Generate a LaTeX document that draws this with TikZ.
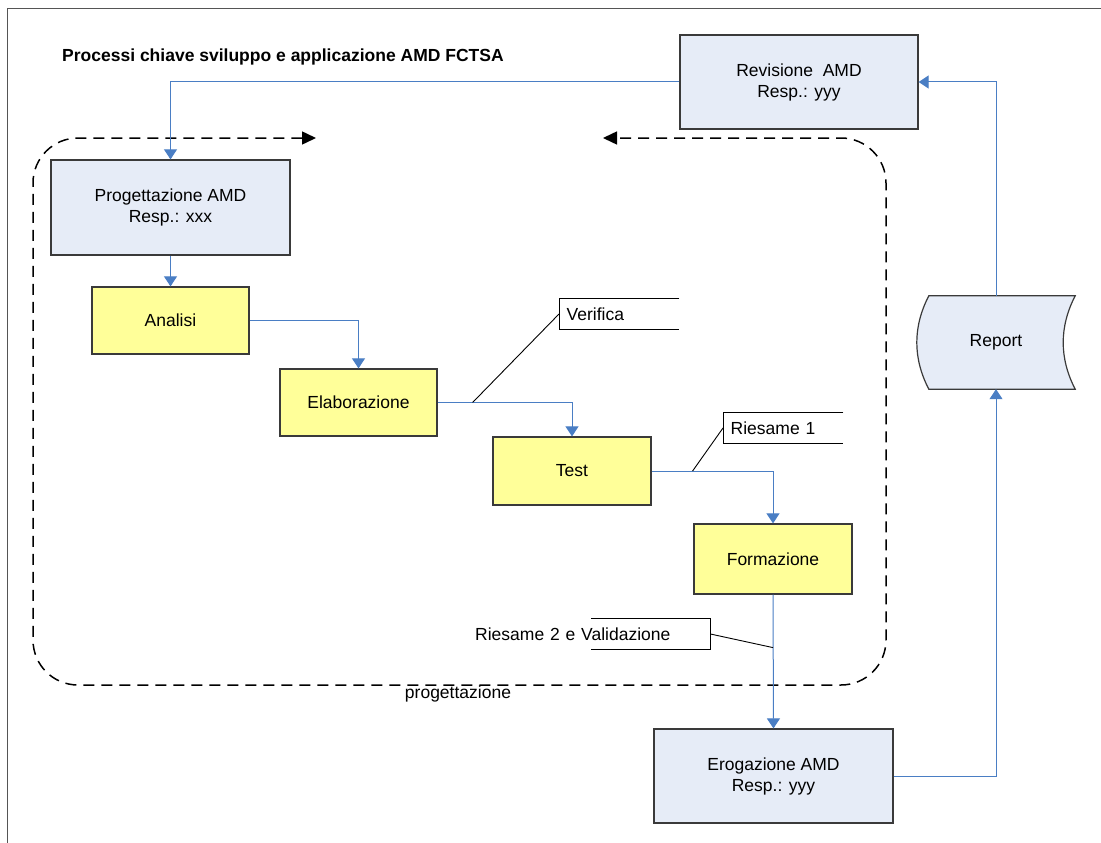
\documentclass[tikz,border=0pt]{standalone}
\usepackage{fontspec}
\setmainfont{Liberation Sans}
\usetikzlibrary{arrows.meta,calc,backgrounds}

\definecolor{boxblue}{HTML}{E6ECF7}
\definecolor{boxyellow}{HTML}{FFFF99}
\definecolor{flowblue}{HTML}{4A7EC4}
\definecolor{edgegray}{HTML}{3A3A3A}
\definecolor{framegray}{HTML}{555555}

\tikzset{
  every node/.style={font=\fontsize{17.5}{21}\selectfont, inner sep=0pt},
  bigbox/.style={draw=edgegray, line width=1.2pt, fill=boxblue,
    minimum width=239pt, minimum height=95pt, align=center},
  stagebox/.style={draw=edgegray, line width=1.2pt, fill=boxyellow,
    minimum width=157pt, minimum height=67pt, align=center},
  flow/.style={draw=flowblue, line width=1pt,
    -{Triangle[width=13pt,length=10pt]}},
  calloutbox/.style={draw=black, line width=1pt},
  leader/.style={draw=black, line width=0.9pt},
  cycleline/.style={draw=black, line width=1.5pt, dash pattern=on 11pt off 7pt,
    {Triangle[width=13pt,length=14pt]}-{Triangle[width=13pt,length=14pt]}},
}

\begin{document}
\begin{tikzpicture}[x=1pt, y=-1pt]
\useasboundingbox (0,0) rectangle (1101,843);

% outer frame (top and left edges)
\draw[framegray, line width=1pt] (1101,9) -- (7,9) -- (7,843);

% title
\node[anchor=base west, font=\fontsize{17.5}{21}\selectfont\bfseries] (title) at (62,62)
  {Processi chiave sviluppo e applicazione AMD FCTSA};

% design cycle boundary
\draw[cycleline, rounded corners=45pt]
  (316,138) -- (33,138) -- (33,685) -- (886,685) -- (886,138) -- (603,138);
\node (cyclelabel) at (458,694) {progettazione};

% main process boxes
\node[bigbox, minimum width=238pt, minimum height=94pt] (rev) at (799,82)
  {Revisione\ \ AMD\\Resp.: yyy};
\node[bigbox] (prog) at (170.5,207.5) {Progettazione AMD\\Resp.: xxx};
\node[stagebox] (analisi) at (170.5,320.5) {Analisi};
\node[stagebox] (elab) at (358.5,402.5) {Elaborazione};
\node[stagebox, minimum width=158pt, minimum height=68pt] (test) at (572,471) {Test};
\node[stagebox, minimum width=158pt, minimum height=70pt] (form) at (773,559) {Formazione};
\node[bigbox, minimum height=94pt] (erog) at (773.5,776) {Erogazione AMD\\Resp.: yyy};

% stored-data shape for the report
\node[minimum width=158pt, minimum height=93pt] (report) at (996,342.5) {Report};
\begin{scope}[on background layer]
\draw[draw=edgegray, line width=1.2pt, fill=boxblue]
  ([xshift=12pt]report.north west) -- (report.north east)
  .. controls ([xshift=-16pt,yshift=-31pt]report.north east)
  and ([xshift=-16pt,yshift=31pt]report.south east) .. (report.south east)
  -- ([xshift=12pt]report.south west)
  .. controls ([xshift=-4pt,yshift=31pt]report.south west)
  and ([xshift=-4pt,yshift=-31pt]report.north west) .. ([xshift=12pt]report.north west)
  -- cycle;
\end{scope}

% flow connectors
\draw[flow] (rev.west) -| (prog.north);
\draw[flow] (prog.south) -- (analisi.north);
\draw[flow] (analisi.east) -| (elab.north);
\draw[flow] (elab.east) -| (test.north);
\draw[flow] (test.east) -| (form.north);
\draw[flow] (form.south) -- (erog.north);
\draw[flow] (erog.east) -| (report.south);
\draw[flow] (report.north) |- (rev.east);

% review callouts
\coordinate (vtip) at ($(elab.east)+(35,0)$);
\coordinate (r1tip) at ($(test.east)+(41,0)$);
\coordinate (r2tip) at ($(form.south)+(0,53)$);

\node[anchor=west, minimum width=120pt, minimum height=30pt, text width=115pt,
  align=left, inner xsep=0pt] (verifica) at (564,314) {Verifica};
\draw[calloutbox] ([xshift=-5pt]verifica.north east) -- ([xshift=-5pt]verifica.north west)
  -- ([xshift=-5pt]verifica.south west) -- ([xshift=-5pt]verifica.south east);
\draw[leader] ([xshift=-5pt]verifica.west) -- (vtip);

\node[anchor=west, minimum width=120pt, minimum height=30pt, text width=115pt,
  align=left] (riesame1) at (728,428) {Riesame 1};
\draw[calloutbox] ([xshift=-5pt]riesame1.north east) -- ([xshift=-5pt]riesame1.north west)
  -- ([xshift=-5pt]riesame1.south west) -- ([xshift=-5pt]riesame1.south east);
\draw[leader] ([xshift=-5pt]riesame1.west) -- (r1tip);

\node[anchor=west, minimum height=30pt, text width=235pt, align=left]
  (riesame2) at (475,634) {Riesame 2 e Validazione};
\draw[calloutbox] ([xshift=-119pt]riesame2.north east) -- (riesame2.north east)
  -- (riesame2.south east) -- ([xshift=-119pt]riesame2.south east);
\draw[leader] (riesame2.east) -- (r2tip);
\end{tikzpicture}
\end{document}
